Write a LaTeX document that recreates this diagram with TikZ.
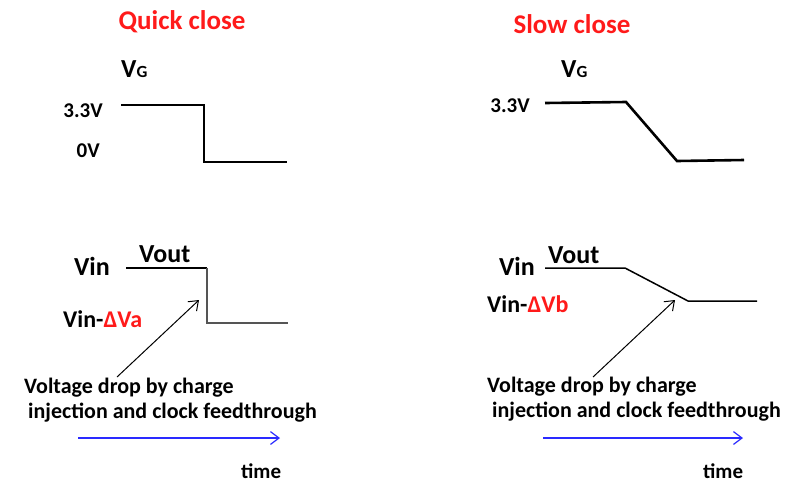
\documentclass[tikz,border=0pt]{standalone}
\usepackage{fontspec}
\setmainfont{Carlito}
\usetikzlibrary{arrows.meta}
\definecolor{SRed}{HTML}{FF1A1A}
\definecolor{SBlue}{HTML}{2A2AFF}
\definecolor{SGrey}{HTML}{555555}

\begin{document}
\begin{tikzpicture}[
  x=1pt,y=-1pt,
  every node/.style={inner sep=0pt,font=\bfseries},
  title/.style={font=\fontsize{27}{30}\selectfont\bfseries,text=SRed,anchor=base},
  level/.style={font=\fontsize{21}{24}\selectfont\bfseries,anchor=base east},
  sig/.style={font=\fontsize{26}{29}\selectfont\bfseries},
  note/.style={font=\fontsize{22}{25}\selectfont\bfseries,align=left,anchor=base west},
  gate/.style={line width=2.6pt},
  outwave/.style={line width=1.5pt},
  arr/.style={-{Straight Barb[length=3mm,width=4.5mm]},line width=1pt},
  timearr/.style={-{Straight Barb[length=3mm,width=4.5mm]},line width=1.2pt,color=SBlue}
]
  \useasboundingbox (0,0) rectangle (786,483);

  % quick close
  \node[title] (quick) at (182,29) {Quick close};
  \node[anchor=base west] (vgq) at (121,77)
    {\fontsize{26}{29}\selectfont V\fontsize{17}{20}\selectfont G};
  \node[level] (hiq) at (103,117) {3.3V};
  \node[level] (loq) at (100,157) {0V};
  \draw[gate] (121,105) -- (204,105) -- (204,162) -- (287,162);

  \node[sig,anchor=base east] (vinq) at (110,275) {Vin};
  \node[sig,anchor=base west] (voutq) at (139,262) {Vout};
  \node[sig,anchor=base west,font=\fontsize{24}{28}\selectfont\bfseries] (dropq) at (63,327)
    {Vin-\textcolor{SRed}{ΔVa}};
  \draw[outwave] (126,268) -- (207,268);
  \draw[outwave,color=SGrey] (207,268) -- (207,323) -- (288,323);
  \node[note] (noteq) at (24,418)
    {Voltage drop by charge\\\hspace{4pt}injection and clock feedthrough};
  \coordinate (tailq) at (117,377);
  \coordinate (headq) at (199,300);
  \draw[arr] (tailq) -- (headq);
  \coordinate (tq0) at (78,438);
  \coordinate (tq1) at (280,438);
  \draw[timearr] (tq0) -- (tq1);
  \node[note,font=\fontsize{21}{24}\selectfont\bfseries] (timeq) at (241,478) {time};

  % slow close
  \node[title] (slow) at (572,33) {Slow close};
  \node[anchor=base west] (vgs) at (561,77)
    {\fontsize{26}{29}\selectfont V\fontsize{17}{20}\selectfont G};
  \node[level] (his) at (530,112) {3.3V};
  \draw[gate] (545,103) -- (626,102) -- (677,161) -- (744,160);

  \node[sig,anchor=base east] (vins) at (535,275) {Vin};
  \node[sig,anchor=base west] (vouts) at (548,263) {Vout};
  \node[sig,anchor=base west,font=\fontsize{24}{28}\selectfont\bfseries] (drops) at (487,312)
    {Vin-\textcolor{SRed}{ΔVb}};
  \draw[outwave] (545,268) -- (625,268) -- (688,301) -- (757,301);
  \node[note] (notes) at (487,417)
    {Voltage drop by charge\\\hspace{5pt}injection and clock feedthrough};
  \coordinate (tails) at (593,377);
  \coordinate (heads) at (675,300);
  \draw[arr] (tails) -- (heads);
  \coordinate (ts0) at (543,438);
  \coordinate (ts1) at (743,438);
  \draw[timearr] (ts0) -- (ts1);
  \node[note,font=\fontsize{21}{24}\selectfont\bfseries] (times) at (703,478) {time};
\end{tikzpicture}
\end{document}
